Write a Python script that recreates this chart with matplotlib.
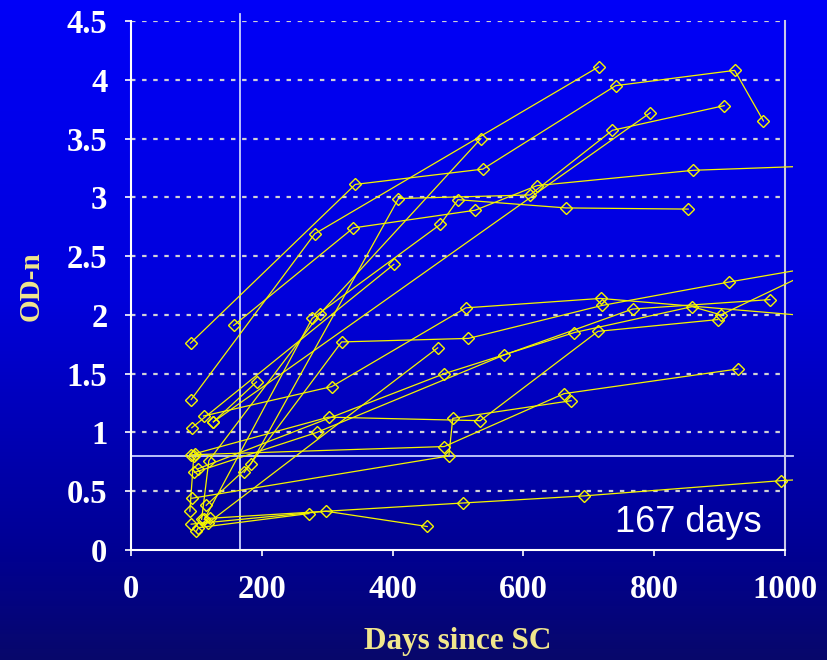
import numpy as np
import matplotlib
matplotlib.use("Agg")
import matplotlib.pyplot as plt
from matplotlib.patches import Rectangle
from matplotlib.colors import LinearSegmentedColormap

# Follow-up series: days since seroconversion and normalised optical density
days_s1 = [91, 343, 538, 741, 923, 967]
od_s1 = [1.76, 3.11, 3.24, 3.95, 4.08, 3.65]
days_s2 = [92, 281, 715]
od_s2 = [1.28, 2.69, 4.11]
days_s3 = [157, 340, 526, 621, 860, 1060]
od_s3 = [1.91, 2.74, 2.89, 3.10, 3.23, 3.27]
days_s4 = [115, 183, 409, 610, 736, 907]
od_s4 = [0.38, 0.73, 2.99, 3.02, 3.57, 3.78]
days_s5 = [93, 402]
od_s5 = [1.04, 2.43]
days_s6 = [126, 794]
od_s6 = [1.09, 3.72]
days_s7 = [98, 302, 534, 714, 897]
od_s7 = [0.82, 1.13, 1.10, 1.86, 1.96]
days_s8 = [111, 307, 512, 718, 1060]
od_s8 = [1.14, 1.39, 2.06, 2.14, 1.98]
days_s9 = [92, 479, 662, 928]
od_s9 = [0.81, 0.88, 1.33, 1.54]
days_s10 = [93, 486, 492, 673]
od_s10 = [0.44, 0.80, 1.12, 1.27]
days_s11 = [173, 322, 516, 720, 915, 1060]
od_s11 = [0.66, 1.77, 1.80, 2.08, 2.28, 2.42]
days_s12 = [97, 284, 571, 767, 977]
od_s12 = [0.66, 1.00, 1.66, 2.05, 2.13]
days_s13 = [102, 479, 678, 858, 902, 1060]
od_s13 = [0.69, 1.50, 1.85, 2.07, 2.00, 2.42]
days_s14 = [108, 119, 289, 535]
od_s14 = [0.26, 0.76, 2.01, 3.50]
days_s15 = [118, 469]
od_s15 = [0.23, 1.72]
days_s16 = [112, 277, 473, 500, 665, 852]
od_s16 = [0.26, 1.97, 2.77, 2.98, 2.91, 2.90]
days_s17 = [126, 192]
od_s17 = [1.09, 1.43]
days_s18 = [121, 508, 692, 994, 1060]
od_s18 = [0.27, 0.40, 0.46, 0.59, 0.61]
days_s19 = [92, 298, 453]
od_s19 = [0.22, 0.33, 0.20]
days_s20 = [100, 103, 272]
od_s20 = [0.16, 0.19, 0.31]
days_s21 = [90, 96]
od_s21 = [0.33, 0.80]

series = [
    (days_s1, od_s1), (days_s2, od_s2), (days_s3, od_s3), (days_s4, od_s4),
    (days_s5, od_s5), (days_s6, od_s6), (days_s7, od_s7), (days_s8, od_s8),
    (days_s9, od_s9), (days_s10, od_s10), (days_s11, od_s11), (days_s12, od_s12),
    (days_s13, od_s13), (days_s14, od_s14), (days_s15, od_s15), (days_s16, od_s16),
    (days_s17, od_s17), (days_s18, od_s18), (days_s19, od_s19), (days_s20, od_s20),
    (days_s21, od_s21),
]

cutoff_days = 167
cutoff_od = 0.8
x_ticks = [0, 200, 400, 600, 800, 1000]
y_ticks = [0, 0.5, 1, 1.5, 2, 2.5, 3, 3.5, 4, 4.5]
y_tick_labels = ["0", "0.5", "1", "1.5", "2", "2.5", "3", "3.5", "4", "4.5"]

W, H = 827, 660
fig = plt.figure(figsize=(W / 100, H / 100), dpi=100)

# vertical blue gradient behind everything
bg = fig.add_axes([0, 0, 1, 1], zorder=-10)
bg.axis("off")
cmap = LinearSegmentedColormap.from_list(
    "bg", [(0.0, (0.0, 0.0, 0.97)), (0.45, (0.0, 0.0, 0.86)),
           (0.83, (0.0, 0.0, 0.58)), (1.0, (0.03, 0.03, 0.42))])
grad = np.linspace(0, 1, 256).reshape(-1, 1)
bg.imshow(grad, aspect="auto", cmap=cmap, extent=[0, 1, 0, 1], origin="upper")

left, right, top, bottom = 131, 785, 21, 550
ax = fig.add_axes([left / W, 1 - bottom / H, (right - left) / W, (bottom - top) / H])
ax.set_facecolor("none")
ax.set_xlim(0, 1000)
ax.set_ylim(0, 4.5)

serif = ["Liberation Serif", "DejaVu Serif"]
grid_col = "#d0d0d8"
for yv in y_ticks[1:]:
    ax.plot([0, 1000], [yv, yv], ls=(0, (2, 3)), color=grid_col, lw=1.6, zorder=1)

# plotting region runs a little past the 1000-day frame
clip_rect = Rectangle((0, 0), 1.012, 1.0, transform=ax.transAxes, facecolor="none", edgecolor="none")
ax.add_patch(clip_rect)

for d, v in series:
    ln, = ax.plot(d, v, color="#f5f500", lw=0.9, marker="D", ms=6.6, mfc="none",
                  mec="#f5f500", mew=1.0, zorder=3)
    ln.set_clip_path(clip_rect)

ref_col = "#c8d0ff"
ax.plot([0, 1012], [cutoff_od, cutoff_od], color=ref_col, lw=1.3, zorder=2, clip_on=False)
ax.plot([cutoff_days, cutoff_days], [0, 4.56], color=ref_col, lw=1.3, zorder=2, clip_on=False)

ax.text(965, 0.15, f"{cutoff_days} days", color="white", fontsize=26,
        family=["Liberation Sans", "DejaVu Sans"], ha="right", va="baseline", zorder=5)

ax.spines["top"].set_visible(False)
ax.spines["left"].set_color("white")
ax.spines["bottom"].set_color("white")
ax.spines["right"].set_color("#c8c8e8")
for s in ["left", "bottom", "right"]:
    ax.spines[s].set_linewidth(1.5)

ax.set_xticks(x_ticks)
ax.set_xticklabels([str(t) for t in x_ticks])
ax.set_yticks(y_ticks)
ax.set_yticklabels(y_tick_labels)
ax.tick_params(axis="both", colors="white", length=4, width=1.2, direction="out")
ax.tick_params(axis="x", pad=13)
ax.tick_params(axis="y", pad=13)
for lab in ax.get_xticklabels() + ax.get_yticklabels():
    lab.set_family(serif)
    lab.set_fontweight("bold")
    lab.set_fontsize(23.5)
    lab.set_color("white")

fig.text(458 / W, 1 - 641 / H, "Days since SC", color="#f0e68c", fontsize=22.5,
         family=serif, fontweight="bold", ha="center", va="center")
fig.text(31 / W, 1 - 286 / H, "OD-n", color="#f0e68c", fontsize=21,
         family=serif, fontweight="bold", ha="center", va="center", rotation=90)

fig.savefig("out.png", dpi=100)
